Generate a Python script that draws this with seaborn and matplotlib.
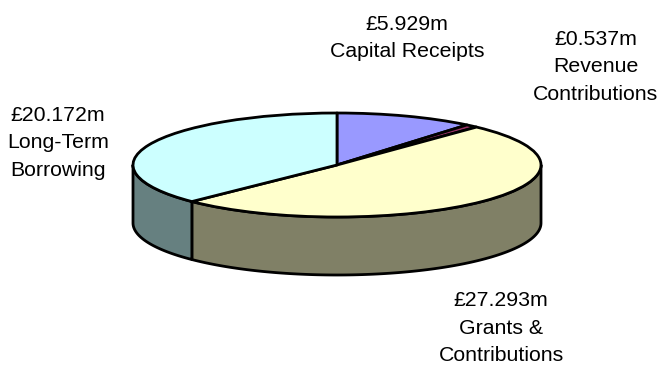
import numpy as np
import matplotlib
matplotlib.use("Agg")
import matplotlib.pyplot as plt
import seaborn as sns

sns.set_style("white")
plt.rcParams["font.family"] = ["Liberation Sans", "DejaVu Sans"]

# Funding sources in £m, clockwise from twelve o'clock
names = ["Capital Receipts", "Revenue\nContributions", "Grants &\nContributions", "Long-Term\nBorrowing"]
values = [5.929, 0.537, 27.293, 20.172]
top_colors = ["#9999FF", "#993366", "#FFFFCC", "#CCFFFF"]
side_colors = ["#4D4D80", "#4D1A33", "#808066", "#668080"]
label_x = [407, 596, 501, 58]
label_y = [38, 67, 328, 143]

W, H = 659, 365
CX, CY, RX, RY, DEPTH = 337, 165, 204, 52, 58
EDGE = 2.0

fig = plt.figure(figsize=(W / 100, H / 100), dpi=100, facecolor="white")
ax = fig.add_axes([0, 0, 1, 1])

ax.pie(values, colors=top_colors, startangle=90, counterclock=False, radius=1,
       wedgeprops=dict(edgecolor="black", linewidth=EDGE, joinstyle="round", zorder=3))
ax.set_aspect("auto")
ax.set_xlim(-CX / RX, (W - CX) / RX)
ax.set_ylim((CY - H) / RY, CY / RY)
ax.axis("off")

# Rim of the disc: only the part facing the viewer (lower half of the ellipse) shows
depth = DEPTH / RY
edges = 90 - 360 * np.cumsum([0] + values) / sum(values)
for start, end, color in zip(edges[:-1], edges[1:], side_colors):
    lo, hi = max(end, -180), min(start, 0)
    if hi <= lo:
        continue
    t = np.radians(np.linspace(lo, hi, 120))
    x, y = np.cos(t), np.sin(t)
    ax.fill(np.r_[x, x[::-1]], np.r_[y, y[::-1] - depth], facecolor=color,
            edgecolor="black", linewidth=EDGE, joinstyle="round", zorder=1)

for name, value, px, py in zip(names, values, label_x, label_y):
    ax.text((px - CX) / RX, (CY - py) / RY, f"£{value:.3f}m\n{name}", ha="center", va="center",
            fontsize=15.3, color="black", linespacing=1.58, zorder=5)

fig.savefig("out.png", dpi=100, facecolor="white")
